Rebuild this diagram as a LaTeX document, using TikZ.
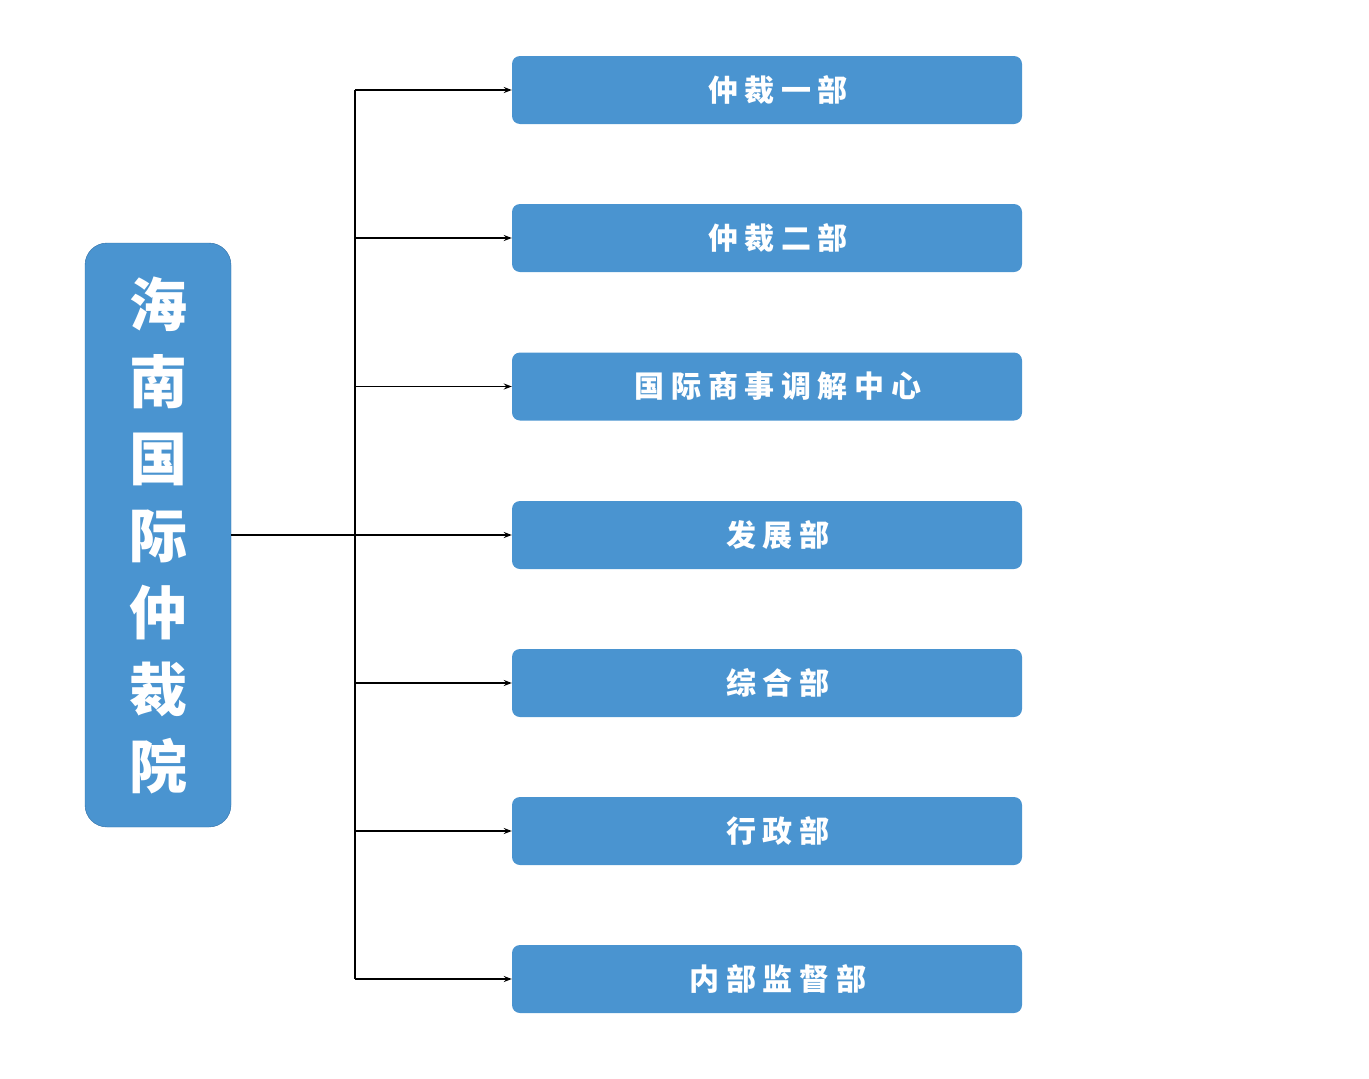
\documentclass[tikz,border=0pt]{standalone}
\usetikzlibrary{arrows.meta}
\usepackage{fontspec}
\newfontfamily\cjk{Noto Sans CJK SC}[LetterSpace=22]
\newfontfamily\cjkv{Noto Sans CJK SC}
\definecolor{boxblue}{HTML}{4A94D0}
\definecolor{boxedge}{HTML}{2F6FA6}
\begin{document}
\begin{tikzpicture}[x=1pt,y=-1pt,
  dept/.style={fill=boxblue,rounded corners=8pt,minimum width=510pt,minimum height=68pt,text=white,font=\cjk\bfseries\fontsize{30}{30}\selectfont,inner sep=0pt},
  conn/.style={line width=1.5pt,-{Stealth[length=8pt,width=6pt]}}]
\useasboundingbox (0,0) rectangle (1369,1079);
\node[fill=boxblue,draw=boxedge,rounded corners=22pt,minimum width=146pt,minimum height=584pt,inner sep=0pt,text=white,align=center,font=\cjkv\bfseries\fontsize{58}{77}\selectfont] (root) at (158,535) {海\\南\\国\\际\\仲\\裁\\院};
\coordinate (top) at (355,90);
\coordinate (bot) at (355,979);
\coordinate (mid) at (355,535);
\draw[line width=1.5pt] (top) -- (bot);
\foreach \n/\y/\t in {a/90/仲裁一部,b/238/仲裁二部,c/386.5/国际商事调解中心,d/535/发展部,e/683/综合部,f/831/行政部,g/979/内部监督部}{
  \node[dept] (\n) at (767,\y) {\hspace*{22pt}\t};
  \coordinate (j\n) at (355,\y);
  \draw[conn] (j\n) -- (\n.west);
}
\draw[line width=1.5pt] (root.east) -- (mid);
\end{tikzpicture}
\end{document}
